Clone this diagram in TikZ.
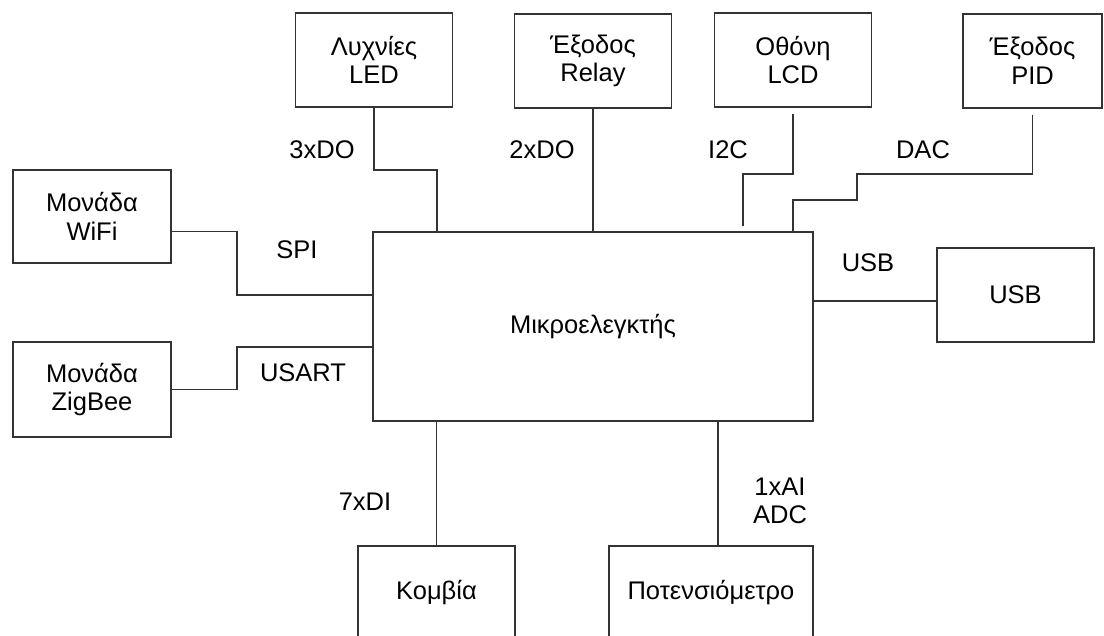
\documentclass[tikz,border=0pt]{standalone}
\usepackage{fontspec}
\setmainfont{Liberation Sans}
\usepackage{tikz}
\usetikzlibrary{calc,positioning}

\tikzset{
  box/.style={draw=black!80, line width=1.5pt, rectangle, inner sep=0pt,
    minimum width=157pt, minimum height=94pt, align=center},
  wire/.style={draw=black!80, line width=1.4pt},
  lbl/.style={inner sep=0pt, align=center}
}

\begin{document}
\begin{tikzpicture}[x=1pt, y=-1pt, font=\fontsize{25.5}{28.5}\selectfont]
  \path[use as bounding box] (0,0) rectangle (1104,636);
  \clip (0,0) rectangle (1104,636);

  % top row
  \node[box] (led)   at (374,60)    {Λυχνίες\\LED};
  \node[box] (relay) at (593,61)    {Έξοδος\\Relay};
  \node[box] (lcd)   at (793,60)    {Οθόνη\\LCD};
  \node[box, minimum width=139pt] (pid) at (1032.5,61) {Έξοδος\\PID};

  % left side
  \node[box, minimum width=158pt, minimum height=93pt] (wifi)   at (92,216.5) {Μονάδα\\WiFi};
  \node[box, minimum width=158pt, minimum height=95pt] (zigbee) at (92,389.5) {Μονάδα\\ZigBee};

  % controller and right side
  \node[box, minimum width=440pt, minimum height=189pt] (mcu) at (593,326.5) {Μικροελεγκτής};
  \node[box] (usb) at (1015.5,295) {USB};

  % bottom row
  \node[box] (kombia) at (436.5,593) {Κομβία};
  \node[box, minimum width=204pt] (pot) at (711,593) {Ποτενσιόμετρο};

  % bends
  \coordinate (ledjoin)  at (437,170);
  \coordinate (lcdjoin)  at (743,174);
  \coordinate (pidA)     at (857,174);
  \coordinate (pidB)     at (793,200);
  \coordinate (wifijoin) at (237,295);
  \coordinate (zigjoin)  at (237,347);
  \coordinate (usbin)    at ([yshift=-6pt]usb.west);
  \coordinate (potjoin)  at ([xshift=7pt]pot.north);

  % connectors
  \draw[wire] (led.south) |- (ledjoin) -- (ledjoin |- mcu.north);
  \draw[wire] (relay.south) -- (mcu.north);
  \draw[wire] ([yshift=-6pt]lcd.south) |- (lcdjoin) -- ([yshift=5pt]lcdjoin |- mcu.north);
  \draw[wire] ([yshift=-6pt]pid.south) |- (pidA) |- (pidB) -- (pidB |- mcu.north);
  \draw[wire] ([yshift=-15pt]wifi.east) -| (wifijoin) -- (wifijoin -| mcu.west);
  \draw[wire] (zigbee.east) -| (zigjoin) -- (zigjoin -| mcu.west);
  \draw[wire] (usbin) -- (usbin -| mcu.east);
  \draw[wire] (kombia.north) -- (kombia.north |- mcu.south);
  \draw[wire] (potjoin) -- (potjoin |- mcu.south);

  % bus labels
  \node[lbl] (doled)   at (322,150) {3xDO};
  \node[lbl] (dorelay) at (542,150) {2xDO};
  \node[lbl] (iic)     at (728,150) {I2C};
  \node[lbl] (dac)     at (923,150) {DAC};
  \node[lbl] (spi)     at (297,250) {SPI};
  \node[lbl] (usart)   at (303,373) {USART};
  \node[lbl] (usblbl)  at (868,263) {USB};
  \node[lbl] (di)      at (365,502) {7xDI};
  \node[lbl] (adc)     at (780,501) {1xAI\\ADC};
\end{tikzpicture}
\end{document}
